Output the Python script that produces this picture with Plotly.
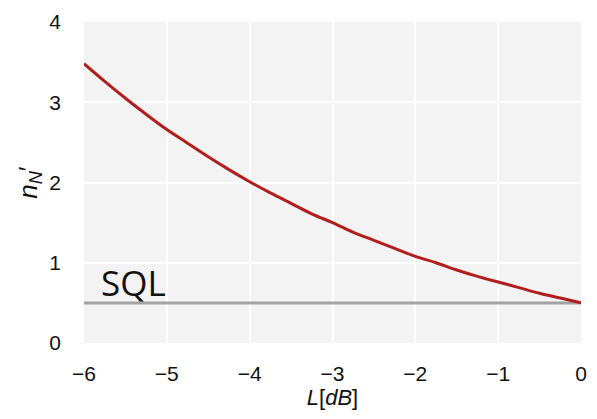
import plotly.graph_objects as go

# Loss in dB (x) and read-off noise values (y)
loss_db = [-6.0, -5.75, -5.5, -5.25, -5.0, -4.75, -4.5, -4.25, -4.0, -3.75, -3.5, -3.25,
           -3.0, -2.75, -2.5, -2.25, -2.0, -1.75, -1.5, -1.25, -1.0, -0.75, -0.5, -0.25, 0.0]
n_values = [3.48, 3.26, 3.05, 2.85, 2.66, 2.49, 2.32, 2.16, 2.01, 1.87, 1.74, 1.61,
            1.50, 1.38, 1.28, 1.18, 1.08, 1.00, 0.91, 0.83, 0.76, 0.69, 0.62, 0.56, 0.50]
sql_x = [-6.0, 0.0]
sql_y = [0.5, 0.5]
x_ticks = [-6, -5, -4, -3, -2, -1, 0]
y_ticks = [0, 1, 2, 3, 4]

fig = go.Figure()
fig.add_trace(go.Scatter(x=sql_x, y=sql_y, mode="lines",
                         line=dict(color="#a3a3a3", width=3), showlegend=False))
fig.add_trace(go.Scatter(x=loss_db, y=n_values, mode="lines",
                         line=dict(color="#b01e1e", width=3, shape="spline"), showlegend=False))

fig.add_annotation(x=-5.82, y=0.76, xref="x", yref="y", text="SQL", showarrow=False,
                   xanchor="left", yanchor="middle",
                   font=dict(family="Open Sans", size=35, color="#111111"))

fig.update_layout(
    width=597, height=419,
    margin=dict(l=84, r=10, t=18, b=76),
    paper_bgcolor="white", plot_bgcolor="#f3f3f3",
    font=dict(family="Liberation Sans, Arial", size=21, color="#111111"),
)
fig.update_xaxes(range=[-6, 0], tickvals=x_ticks, ticktext=["−6", "−5", "−4", "−3", "−2", "−1", "0"],
                 showgrid=True, gridcolor="white", gridwidth=2, zeroline=False,
                 ticks="", ticklabelstandoff=16,
                 title=dict(text="<i>L</i>[<i>dB</i>]", standoff=2, font=dict(size=22)))
fig.update_yaxes(range=[0, 4], tickvals=y_ticks,
                 showgrid=True, gridcolor="white", gridwidth=2, zeroline=False,
                 ticks="", ticklabelstandoff=22,
                 title=dict(text="<i>n</i><sub><i>N</i></sub>′", standoff=4, font=dict(size=26)))

fig.write_html("out.html")
